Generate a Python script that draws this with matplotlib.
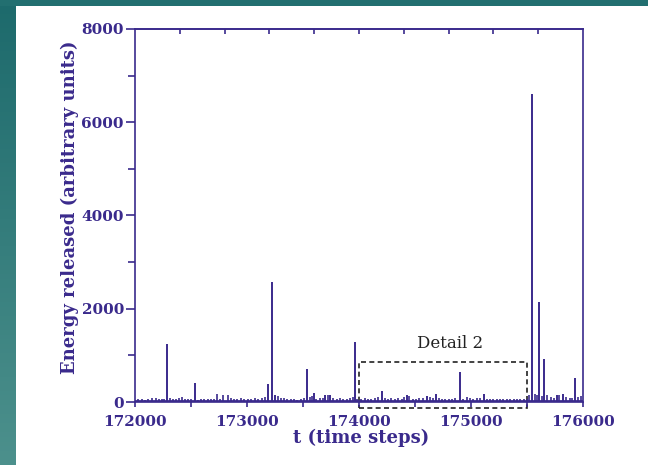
import numpy as np
import matplotlib.pyplot as plt
from matplotlib.patches import Rectangle
from matplotlib.colors import LinearSegmentedColormap

# large avalanches (time step, energy)
spike_t = [172283, 172536, 173185, 173222, 173252, 173535, 173598, 173700,
           173745, 173962, 174205, 174425, 174605, 174685, 174900, 175116,
           175542, 175608, 175652, 175765, 175818, 175930]
spike_e = [1240, 415, 390, 2570, 150, 710, 200, 140,
           160, 1290, 230, 150, 125, 175, 650, 165,
           6600, 2150, 930, 160, 180, 510]

# small background events
noise_t = [172030, 172065, 172090, 172120, 172150, 172185, 172210, 172240, 172260, 172310,
           172340, 172365, 172395, 172420, 172450, 172470, 172500, 172560, 172590, 172615,
           172650, 172680, 172705, 172735, 172760, 172790, 172830, 172860, 172885, 172915,
           172945, 172975, 173010, 173040, 173070, 173100, 173130, 173160, 173275, 173300,
           173330, 173360, 173395, 173420, 173450, 173480, 173510, 173560, 173580, 173620,
           173650, 173680, 173720, 173770, 173800, 173830, 173860, 173890, 173920, 173945,
           173985, 174020, 174050, 174080, 174110, 174140, 174170, 174230, 174260, 174290,
           174320, 174350, 174380, 174400, 174450, 174480, 174510, 174540, 174570, 174630,
           174660, 174710, 174740, 174770, 174800, 174830, 174860, 174930, 174960, 174990,
           175020, 175050, 175080, 175140, 175170, 175200, 175230, 175260, 175290, 175320,
           175350, 175380, 175410, 175440, 175470, 175500, 175520, 175570, 175590, 175630,
           175680, 175710, 175740, 175790, 175850, 175880, 175905, 175955, 175985]
noise_e = [55, 60, 50, 65, 90, 85, 60, 75, 65, 80,
           70, 65, 80, 105, 60, 65, 75, 50, 70, 60,
           65, 75, 60, 165, 70, 150, 160, 80, 65, 70,
           80, 60, 75, 65, 90, 70, 80, 110, 120, 90,
           80, 65, 70, 60, 50, 65, 80, 110, 130, 75,
           90, 80, 140, 95, 70, 80, 65, 75, 80, 100,
           70, 65, 90, 75, 60, 80, 105, 90, 75, 80,
           65, 80, 70, 110, 130, 70, 60, 80, 90, 110,
           85, 90, 70, 60, 75, 65, 80, 70, 115, 90,
           65, 80, 95, 70, 60, 75, 65, 55, 60, 70,
           65, 55, 60, 70, 65, 75, 160, 170, 140, 120,
           150, 110, 90, 140, 100, 80, 95, 110, 130]
base_level = 25

detail_t0, detail_t1 = 174000, 175500
detail_e0, detail_e1 = -130, 850

ink = '#3a2a8c'
W, H = 648, 465

fig = plt.figure(figsize=(W / 100, H / 100), dpi=100)
fig.patch.set_facecolor('white')

# teal frame on the left and top
teal = LinearSegmentedColormap.from_list('teal', ['#1d6a6c', '#4c908c'])
side = fig.add_axes([0, 0, 16 / W, 1])
side.imshow(np.linspace(0, 1, 100).reshape(-1, 1), cmap=teal, aspect='auto')
side.axis('off')
top = fig.add_axes([0, 1 - 6 / H, 1, 6 / H])
top.set_facecolor('#226f70')
top.set_xticks([]); top.set_yticks([])
for s in top.spines.values():
    s.set_visible(False)

ax = fig.add_axes([135 / W, 63 / H, 448 / W, 373 / H])
ax.vlines(noise_t, 0, noise_e, color=ink, lw=1.2)
ax.vlines(spike_t, 0, spike_e, color=ink, lw=1.4)
ax.axhline(base_level, color=ink, lw=2.0)

ax.add_patch(Rectangle((detail_t0, detail_e0), detail_t1 - detail_t0, detail_e1 - detail_e0,
                       fill=False, ls=(0, (3, 2)), lw=1.2, ec='#222222', clip_on=False))
ax.text(174814, 1265, 'Detail 2', ha='center', va='center', fontsize=12,
        family='DejaVu Serif', color='#222222')

ax.set_xlim(172000, 176000)
ax.set_ylim(0, 8000)
ax.set_xticks(np.arange(172000, 176001, 1000))
ax.set_xticks(np.arange(172500, 176000, 1000), minor=True)
ax.set_yticks(np.arange(0, 8001, 2000))
ax.set_yticks(np.arange(1000, 8000, 2000), minor=True)
ax.xaxis.set_major_formatter(plt.FuncFormatter(lambda v, p: f'{int(v)}'))

for s in ax.spines.values():
    s.set_color(ink)
    s.set_linewidth(1.2)

ax.tick_params(axis='both', which='both', colors=ink, width=1.2)
ax.tick_params(axis='y', which='major', direction='out', length=6.5, pad=1.5)
ax.tick_params(axis='y', which='minor', direction='out', length=5)
ax.tick_params(axis='x', which='both', direction='out', length=3.5, pad=5.5)
for lbl in ax.get_xticklabels() + ax.get_yticklabels():
    lbl.set_family('DejaVu Serif')
    lbl.set_fontweight('bold')
    lbl.set_fontsize(11)
    lbl.set_color(ink)

# top axis carries finer inward ticks
sec = ax.secondary_xaxis('top')
sec.set_xticks(np.arange(172400, 176000, 400))
sec.set_xticklabels([])
sec.tick_params(direction='in', length=3.6, width=1.2, colors=ink)
sec.spines['top'].set_color(ink)
sec.spines['top'].set_linewidth(1.2)

ax.set_xlabel('t (time steps)', family='DejaVu Serif', fontweight='bold',
              fontsize=13, color=ink, labelpad=0, x=0.505)
ax.set_ylabel('Energy released (arbitrary units)', family='DejaVu Serif',
              fontweight='bold', fontsize=13, color=ink, labelpad=2, y=0.522)

fig.savefig('out.png', dpi=100)
